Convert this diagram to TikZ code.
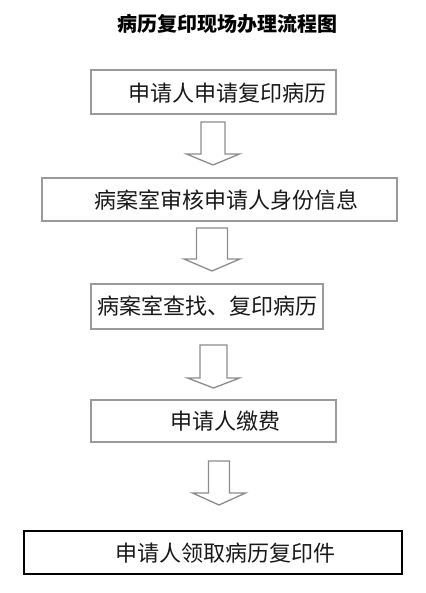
\documentclass[tikz,border=0pt]{standalone}
\usepackage{fontspec}
\setmainfont{Noto Sans CJK SC}
\usetikzlibrary{positioning}
\definecolor{boxgray}{HTML}{9A9A9A}
\definecolor{arrowgray}{HTML}{8C8C8C}
\tikzset{
  stepbox/.style={draw=boxgray, line width=1.6pt, fill=white, inner sep=0pt},
  finalbox/.style={draw=black, line width=1.3pt, fill=white, inner sep=0pt},
  steptext/.style={font=\fontsize{22}{26}\selectfont, text=black!90, inner sep=0pt},
  titletext/.style={font=\fontsize{20}{24}\selectfont\bfseries, inner sep=0pt},
  hollowarrow/.style={draw=arrowgray, line width=1.3pt, fill=white, line join=miter}
}
% hollow down arrow: centre x, top y, shaft half width, wing y, wing half width, tip y
\newcommand{\blockarrow}[6]{%
  \draw[hollowarrow] (#1-#3,#2) -- (#1+#3,#2) -- (#1+#3,#4) -- (#1+#5,#4)
    -- (#1,#6) -- (#1-#5,#4) -- (#1-#3,#4) -- cycle;}

\begin{document}
\begin{tikzpicture}[x=1pt, y=-1pt]
  \useasboundingbox (0,0) rectangle (425,593);
  \node[titletext] (title) at (227,24) {病历复印现场办理流程图};

  % steps
  \node[stepbox, minimum width=245pt, minimum height=44pt] (apply) at (213.5,92) {};
  \node[steptext] (applyt) at (227.5,93) {申请人申请复印病历};
  \node[stepbox, minimum width=355pt, minimum height=43pt] (check) at (219.5,199.5) {};
  \node[steptext] (checkt) at (226.5,200) {病案室审核申请人身份信息};
  \node[stepbox, minimum width=232pt, minimum height=45pt] (copy) at (207,306.5) {};
  \node[steptext] (copyt) at (207,306) {病案室查找、复印病历};
  \node[stepbox, minimum width=245pt, minimum height=42pt] (pay) at (213.5,421) {};
  \node[steptext] (payt) at (225,421) {申请人缴费};
  \node[finalbox, minimum width=378pt, minimum height=43pt] (fetch) at (213,552.5) {};
  \node[steptext] (fetcht) at (225,553) {申请人领取病历复印件};

  % arrows
  \blockarrow{213}{122}{12}{154}{26.5}{165}
  \blockarrow{212}{228}{15.5}{259}{28}{271}
  \blockarrow{213.5}{345}{13.5}{378}{26}{388}
  \blockarrow{219}{461}{10.5}{493}{26.5}{505}
\end{tikzpicture}
\end{document}
